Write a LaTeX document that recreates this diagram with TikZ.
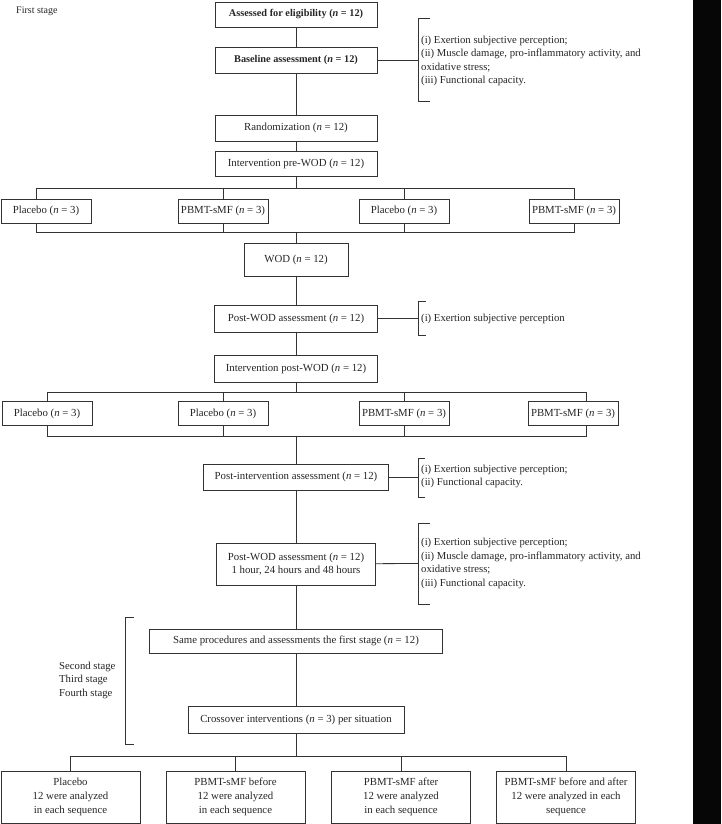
\documentclass[tikz,border=0pt]{standalone}
\usepackage{fontspec}
\setmainfont{Liberation Serif}
\usetikzlibrary{positioning}
\definecolor{edge}{RGB}{6,6,6}
\tikzset{box/.style={draw=black!80,line width=0.8pt,align=center,inner sep=1pt,text=black!85,font=\fontsize{10.8}{13.5}\selectfont},
         heavy/.style={box,font=\fontsize{10.3}{13}\selectfont\bfseries},
         note/.style={align=left,anchor=west,inner sep=0pt,text=black!85,font=\fontsize{10.7}{13.5}\selectfont},
         link/.style={draw=black!80,line width=0.8pt},
         group/.style={box,minimum width=90pt,minimum height=24pt},
         result/.style={box,minimum width=139pt,minimum height=52pt,font=\fontsize{10.8}{13.8}\selectfont},
        }

\begin{document}
\begin{tikzpicture}[x=1pt,y=-1pt]
    \useasboundingbox (0,0) rectangle (721,824);
    \fill[white](0,0)rectangle(693,824);
    \fill[edge](693,0)rectangle(721,824);

    \node[note,font=\fontsize{10}{12}\selectfont](first)at(16,11){First stage};
    \node[heavy,minimum width=162pt,minimum height=25pt](assess)at(296,14.5){Assessed for eligibility (\textit{n} = 12)};
    \node[heavy,minimum width=162pt,minimum height=26pt](base)at(296,60){Baseline assessment (\textit{n} = 12)};
    \node[box,minimum width=162pt,minimum height=26pt](rand)at(296,128){Randomization (\textit{n} = 12)};
    \node[box,minimum width=162pt,minimum height=25pt](prewod)at(296,163.5){Intervention pre-WOD (\textit{n} = 12)};
    \draw[link](assess)--(base);
    \draw[link](base)--(rand);
    \draw[link](rand)--(prewod);

    \coordinate(brA)at(418,60);
    \draw[link](base)--(brA);
    \draw[link]([shift={(12,-42)}]brA)-|([shift={(0,41)}]brA)--([shift={(12,41)}]brA);
    \node[note](listA)at(421,61){(i) Exertion subjective perception;\\(ii) Muscle damage, pro-inflammatory activity, and\\oxidative stress;\\(iii) Functional capacity.};

    \node[group](p1)at(46,211){Placebo (\textit{n} = 3)};
    \node[group](m1)at(223,211){PBMT-sMF (\textit{n} = 3)};
    \node[group](p2)at(404,211){Placebo (\textit{n} = 3)};
    \node[group](m2)at(574,211){PBMT-sMF (\textit{n} = 3)};
    \coordinate(busA)at(296,188);
    \coordinate(busB)at(296,232);
    \coordinate(p1top)at([xshift=-10pt]p1.north);
    \coordinate(p1bot)at([xshift=-10pt]p1.south);
    \draw[link](prewod)--(busA);
    \draw[link](p1top)|-(m2.north|-busA)--(m2.north);
    \draw[link](m1.north)--(m1.north|-busA);
    \draw[link](p2.north)--(p2.north|-busA);
    \draw[link](p1bot)|-(m2.south|-busB)--(m2.south);
    \draw[link](m1.south)--(m1.south|-busB);
    \draw[link](p2.south)--(p2.south|-busB);

    \node[box,minimum width=104pt,minimum height=33pt](wod)at(296,259.5){WOD (\textit{n} = 12)};
    \node[box,minimum width=163pt,minimum height=27pt](postwod)at(296,318.5){Post-WOD assessment (\textit{n} = 12)};
    \node[box,minimum width=163pt,minimum height=27pt](intpost)at(296,368.5){Intervention post-WOD (\textit{n} = 12)};
    \draw[link](busB)--(wod);
    \draw[link](wod)--(postwod);
    \draw[link](postwod)--(intpost);

    \coordinate(brB)at(418,318.5);
    \draw[link](postwod)--(brB);
    \draw[link]([shift={(8,-17.5)}]brB)-|([shift={(0,16.5)}]brB)--([shift={(8,16.5)}]brB);
    \node[note](listB)at(421,318.5){(i) Exertion subjective perception};

    \node[group](q1)at(47,413.5){Placebo (\textit{n} = 3)};
    \node[group](q2)at(223,413.5){Placebo (\textit{n} = 3)};
    \node[group](q3)at(404,413.5){PBMT-sMF (\textit{n} = 3)};
    \node[group](q4)at(573,413.5){PBMT-sMF (\textit{n} = 3)};
    \coordinate(busC)at(296,392);
    \coordinate(busD)at(296,436);
    \coordinate(q4top)at([xshift=13pt]q4.north);
    \coordinate(q4bot)at([xshift=13pt]q4.south);
    \draw[link](intpost)--(busC);
    \draw[link](q1.north)|-(q4top|-busC)--(q4top);
    \draw[link](q2.north)--(q2.north|-busC);
    \draw[link](q3.north)--(q3.north|-busC);
    \draw[link](q1.south)|-(q4bot|-busD)--(q4bot);
    \draw[link](q2.south)--(q2.south|-busD);
    \draw[link](q3.south)--(q3.south|-busD);

    \node[box,minimum width=185pt,minimum height=26pt](postint)at(296,477){Post-intervention assessment (\textit{n} = 12)};
    \draw[link](busD)--(postint);
    \coordinate(brC)at(418,477);
    \draw[link](postint)--(brC);
    \draw[link]([shift={(7,-19)}]brC)-|([shift={(0,20)}]brC)--([shift={(7,20)}]brC);
    \node[note](listC)at(421,476.5){(i) Exertion subjective perception;\\(ii) Functional capacity.};

    \node[box,minimum width=159pt,minimum height=42pt,font=\fontsize{10.8}{13}\selectfont](postwodb)at(296,564){Post-WOD assessment (\textit{n} = 12)\\1 hour, 24 hours and 48 hours};
    \draw[link](postint)--(postwodb);
    \coordinate(brD)at(418,563.5);
    \draw[link](postwodb)--(brD);
    \draw[link]([shift={(12,-40.5)}]brD)-|([shift={(0,40.5)}]brD)--([shift={(12,40.5)}]brD);
    \node[note](listD)at(421,563.5){(i) Exertion subjective perception;\\(ii) Muscle damage, pro-inflammatory activity, and\\oxidative stress;\\(iii) Functional capacity.};

    \node[box,minimum width=293pt,minimum height=24pt](same)at(296,641){Same procedures and assessments the first stage (\textit{n} = 12)};
    \node[box,minimum width=216pt,minimum height=27pt](cross)at(296,719.5){Crossover interventions (\textit{n} = 3) per situation};
    \draw[link](postwodb)--(same);
    \draw[link](same)--(cross);

    \coordinate(brE)at(125,680.5);
    \draw[link]([shift={(9,-63.5)}]brE)-|([shift={(0,63.5)}]brE)--([shift={(9,63.5)}]brE);
    \node[note](stages)at(59,680){Second stage\\Third stage\\Fourth stage};

    \node[result](r1)at(70.5,797){Placebo\\12 were analyzed\\in each sequence};
    \node[result](r2)at(235.5,797){PBMT-sMF before\\12 were analyzed\\in each sequence};
    \node[result](r3)at(401,797){PBMT-sMF after\\12 were analyzed\\in each sequence};
    \node[result](r4)at(566,797){PBMT-sMF before and after\\12 were analyzed in each\\sequence};
    \coordinate(busE)at(296,756);
    \draw[link](cross)--(busE);
    \draw[link](r1.north)|-(r4.north|-busE)--(r4.north);
    \draw[link](r2.north)--(r2.north|-busE);
    \draw[link](r3.north)--(r3.north|-busE);
\end{tikzpicture}
\end{document}
